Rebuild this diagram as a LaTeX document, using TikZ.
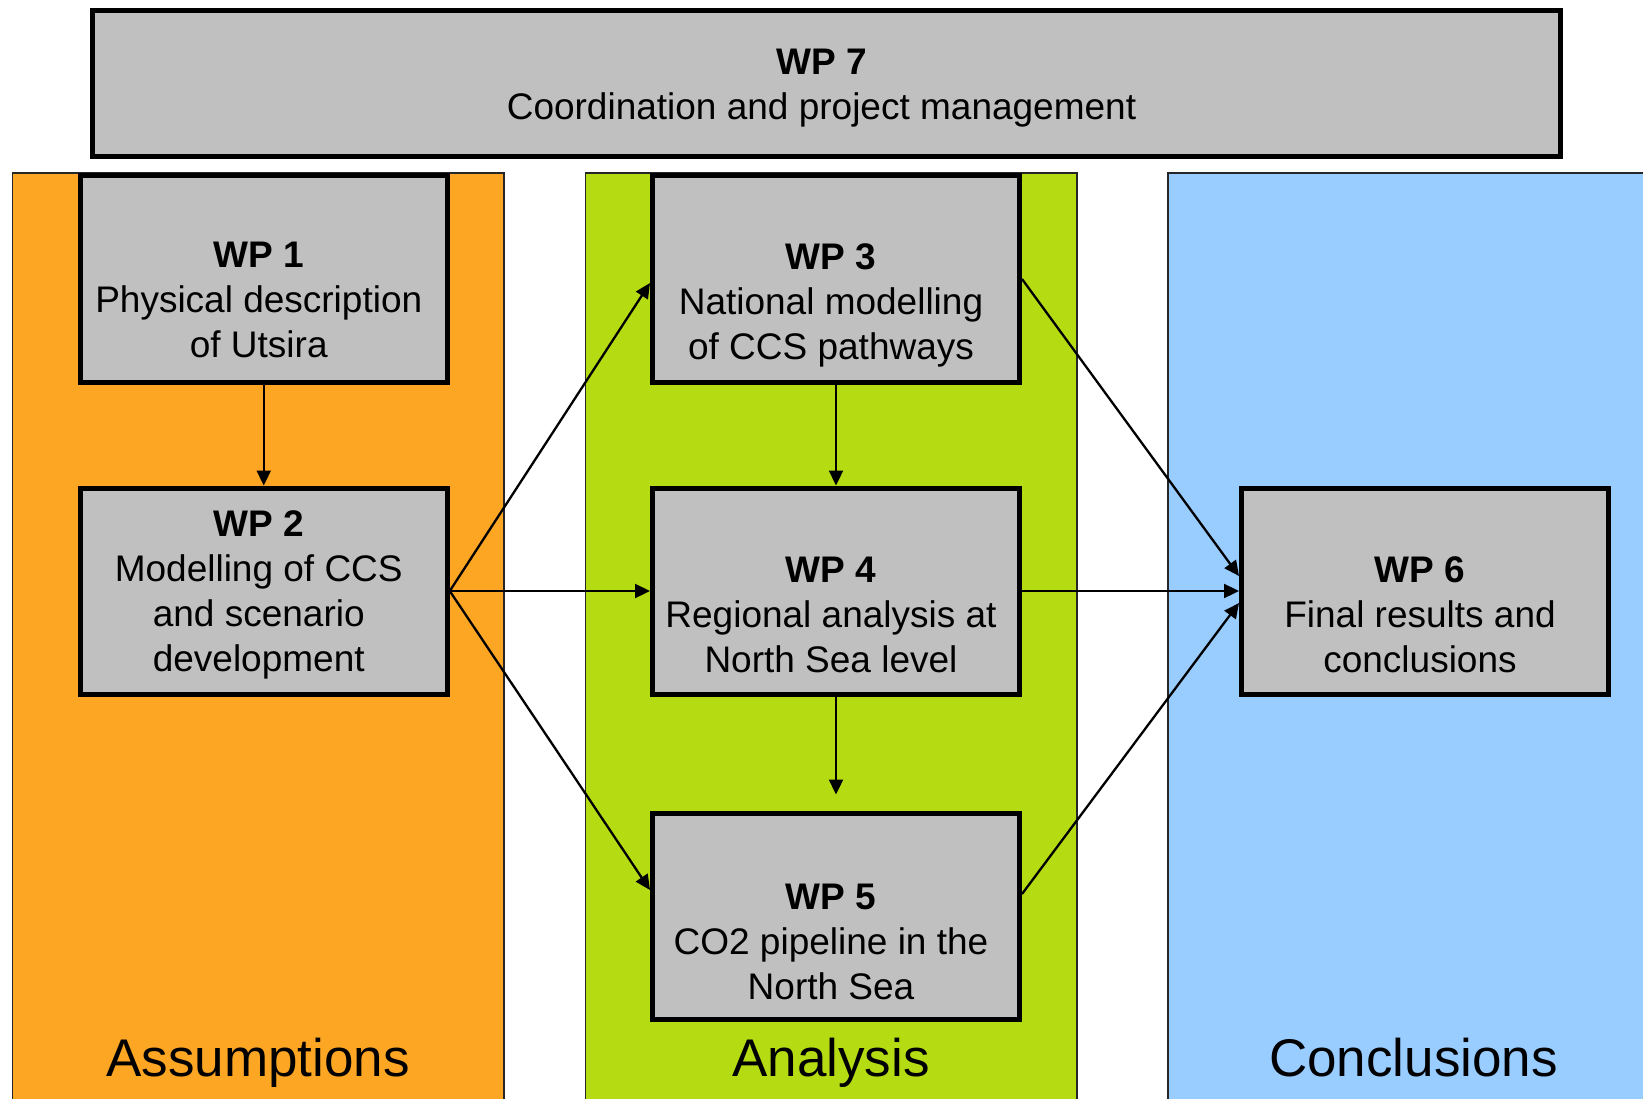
\documentclass[tikz,border=0pt]{standalone}
\usepackage{fontspec}
\setmainfont{Liberation Sans}
\usetikzlibrary{arrows.meta}

\definecolor{boxgray}{RGB}{192,192,192}
\definecolor{assumptcol}{RGB}{252,166,35}
\definecolor{analysiscol}{RGB}{181,220,18}
\definecolor{conclcol}{RGB}{153,204,255}

% line helpers: a little room on the right of each line, fixed top and bottom struts
\newcommand\rpad{\hspace{10pt}\null}
\newcommand\topline[1][36pt]{\rule{0pt}{#1}}
\newcommand\topfull{\rule{0pt}{40pt}}
\newcommand\botline{\rule[-13.5pt]{0pt}{13.5pt}}

\begin{document}
\begin{tikzpicture}[x=1pt,y=-1pt,
  wpbox/.style={draw=black, line width=5pt, fill=boxgray,
    minimum width=367pt, minimum height=206pt, inner sep=0pt,
    align=center, font=\fontsize{37}{45}\selectfont},
  column/.style={draw=black!85, line width=1.5pt},
  link/.style={line width=2.3pt, -{Triangle[length=15pt,width=14pt]}},
  caption/.style={font=\fontsize{53}{60}\selectfont, anchor=base, inner sep=0pt}
]
\useasboundingbox (0,0) rectangle (1643,1099);

% phase columns
\path[column, fill=assumptcol]  (12.6,173) rectangle (504,1110);
\path[column, fill=analysiscol] (585.7,173) rectangle (1077,1110);
\path[column, fill=conclcol]    (1168,173) rectangle (1660,1110);

\node[caption] (capA) at (258,1076) {Assumptions};
\node[caption] (capB) at (831,1076) {Analysis};
\node[caption] (capC) at (1413.5,1076) {Conclusions};

% coordination box
\node[wpbox, minimum width=1468pt, minimum height=146pt] (wp7) at (826.5,84)
  {\topfull\textbf{WP 7}\rpad\\Coordination and project management\rpad\botline};

% work packages
\node[wpbox] (wp1) at (263.75,279)
  {\topline\\\textbf{WP 1}\rpad\\Physical description\rpad\\of Utsira\rpad\botline};
\node[wpbox] (wp2) at (263.75,591)
  {\topfull\textbf{WP 2}\rpad\\Modelling of CCS\rpad\\and scenario\rpad\\development\rpad\botline};
\node[wpbox] (wp3) at (836,279)
  {\topline[39pt]\\\textbf{WP 3}\rpad\\National modelling\rpad\\of CCS pathways\rpad\botline};
\node[wpbox] (wp4) at (836,591)
  {\topline[42pt]\\\textbf{WP 4}\rpad\\Regional analysis at\rpad\\North Sea level\rpad\botline};
\node[wpbox] (wp5) at (836,916)
  {\topline[46pt]\\\textbf{WP 5}\rpad\\CO2 pipeline in the\rpad\\North Sea\rpad\botline};
\node[wpbox] (wp6) at (1425,591)
  {\topline[42pt]\\\textbf{WP 6}\rpad\\Final results and\rpad\\conclusions\rpad\botline};

% dependencies
\draw[link] (wp1.south) -- (wp2.north);
\draw[link] (wp2.east) -- ([yshift=-4pt]wp3.west);
\draw[link] (wp2.east) -- (wp4.west);
\draw[link] (wp2.east) -- ([yshift=26pt]wp5.west);
\draw[link] (wp3.south) -- (wp4.north);
\draw[link, shorten >=16pt] (wp4.south) -- (wp5.north);
\draw[link] (wp3.east) -- ([yshift=15pt]wp6.west);
\draw[link] (wp4.east) -- (wp6.west);
\draw[link] ([yshift=22pt]wp5.east) -- ([yshift=-12pt]wp6.west);
\end{tikzpicture}
\end{document}
